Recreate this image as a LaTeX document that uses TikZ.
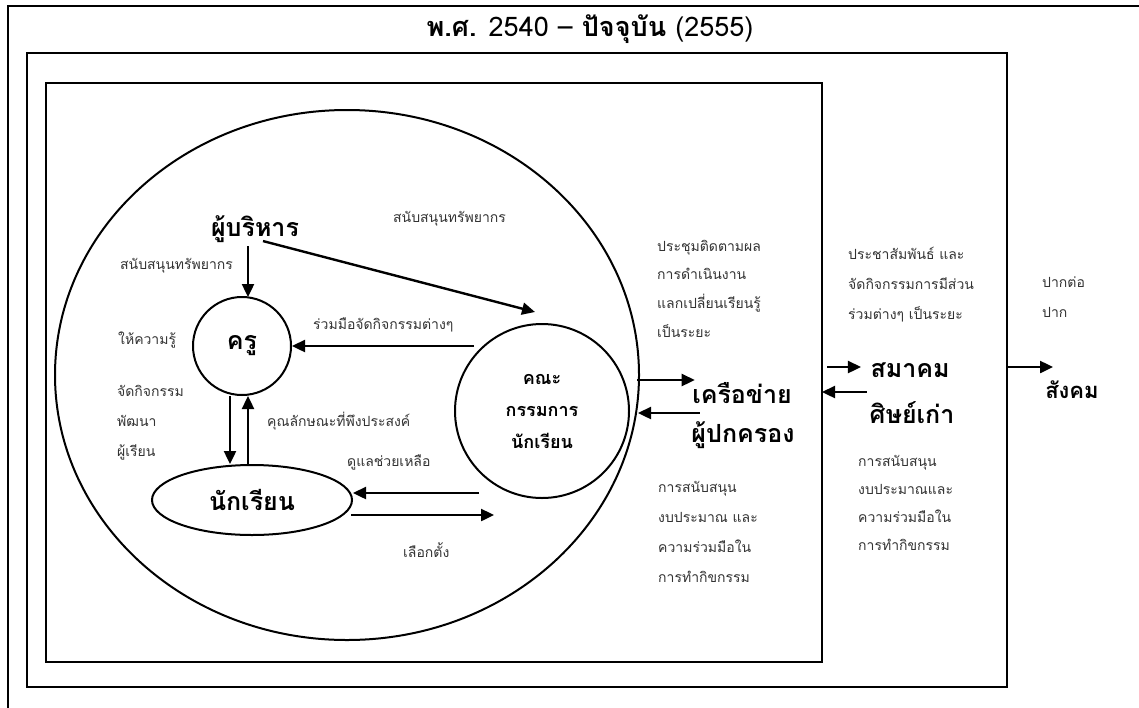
\documentclass[tikz,border=0pt]{standalone}
\usepackage{fontspec}
\setmainfont[Script=Thai]{Loma}
\usetikzlibrary{arrows.meta,calc,shapes.geometric}
\tikzset{
  frame/.style={line width=2pt},
  arr/.style={line width=2.4pt,-{Triangle[length=13pt,width=12pt]}},
  big/.style={font=\fontsize{25}{30}\selectfont\bfseries},
  small/.style={font=\fontsize{14}{17}\selectfont, text=black!80, inner sep=0pt, anchor=base west},
}
\begin{document}
\begin{tikzpicture}[x=1pt,y=-1pt]
    \useasboundingbox (0,0) rectangle (1139,707);
    \clip (0,0) rectangle (1139,707);

    % Frames
    \draw[frame] (8,6) rectangle (1160,730);
    \draw[frame] (27,53) rectangle (1007,687);
    \draw[frame] (46,83) rectangle (822,662);
    \node (title) at (590,29) {\fontsize{27}{30}\selectfont\textbf{พ.ศ.} 2540 -- \textbf{ปัจจุบัน} (2555)};

    % School
    \draw[line width=2pt] (347,375) ellipse [x radius=292, y radius=265];

    % Inside the school
    \node[big] (admin) at (255,229) {ผู้บริหาร};
    \node[big, circle, draw, line width=2pt, minimum size=98pt, inner sep=0pt] (kru) at (242,346) {ครู};
    \node[big, ellipse, draw, line width=2pt, minimum width=200pt, minimum height=70pt, inner sep=0pt] (stu) at (252,500) {นักเรียน};
    \node[circle, draw, line width=2pt, minimum size=174pt, align=center,
          font=\fontsize{18}{32}\selectfont\bfseries] (comm) at (542,411) {คณะ\\กรรมการ\\นักเรียน};

    \coordinate (ak) at ($(kru.north)+(6,1)$);
    \draw[arr] (ak |- admin.south) -- (ak);
    \draw[arr] ($(admin.south)+(8,-5)$) -- ($(comm.north)+(-7,-11)$);
    \draw[arr] ($(kru.east -| comm.west)+(20,0)$) -- (kru.east);

    \coordinate (dn) at ($(kru.south)+(-12,0)$);
    \coordinate (up) at ($(kru.south)+(6,0)$);
    \draw[arr] (dn) -- (dn |- stu.north);
    \draw[arr] (up |- stu.north) -- (up);

    \draw[arr] ($(stu.east)+(126,-7)$) -- ($(stu.east)+(0,-7)$);
    \draw[arr] ($(stu.east)+(-2,15)$) -- ($(stu.east)+(141,15)$);

    % Labels inside
    \node[small] (l1) at (120,269) {สนับสนุนทรัพยากร};
    \node[small] (l2) at (118,344) {ให้ความรู้};
    \foreach \t [count=\i] in {จัดกิจกรรม, พัฒนา, ผู้เรียน}
        \node[small] (dev\i) at (117,{396+30*(\i-1)}) {\t};
    \node[small] (l3) at (393,222) {สนับสนุนทรัพยากร};
    \node[small] (l4) at (313,329) {ร่วมมือจัดกิจกรรมต่างๆ};
    \node[small] (l5) at (267,426) {คุณลักษณะที่พึงประสงค์};
    \node[small] (l6) at (347,466) {ดูแลช่วยเหลือ};
    \node[small] (l7) at (403,557) {เลือกตั้ง};

    % Parents network
    \node[big] (net) at (742,393) {เครือข่าย};
    \node[big] (par) at (743,435) {ผู้ปกครอง};
    \coordinate (eR) at (637,380);
    \coordinate (eR2) at (638,413);
    \draw[arr] (eR) -- ($(eR -| net.west)+(6,0)$);
    \draw[arr] ($(eR2 -| net.west)+(11,0)$) -- (eR2);

    \foreach \t [count=\i] in {ประชุมติดตามผล, การดำเนินงาน, แลกเปลี่ยนเรียนรู้, เป็นระยะ}
        \node[small] (meet\i) at (657,{251+28.7*(\i-1)}) {\t};
    \foreach \t [count=\i] in {การสนับสนุน, งบประมาณ และ, ความร่วมมือใน, การทำกิขกรรม}
        \node[small] (psup\i) at (658,{492+30*(\i-1)}) {\t};

    % Alumni
    \node[big] (alum1) at (910,370) {สมาคม};
    \node[big] (alum2) at (912,413) {ศิษย์เก่า};
    \coordinate (inR) at (822,367);
    \coordinate (inR2) at (822,392);
    \draw[arr] ($(inR)+(5,0)$) -- ($(inR -| alum1.west)+(-6,0)$);
    \draw[arr] ($(inR2 -| alum1.west)+(0,0)$) -- (inR2);

    \foreach \t [count=\i] in {ประชาสัมพันธ์ และ, จัดกิจกรรมการมีส่วน, ร่วมต่างๆ เป็นระยะ}
        \node[small] (pr\i) at (848,{259+30*(\i-1)}) {\t};
    \foreach \t [count=\i] in {การสนับสนุน, งบประมาณและ, ความร่วมมือใน, การทำกิขกรรม}
        \node[small] (asup\i) at (858,{466+28.3*(\i-1)}) {\t};

    % Society
    \node[font=\fontsize{22}{26}\selectfont\bfseries] (soc) at (1072,390) {สังคม};
    \coordinate (midR) at (1007,367);
    \draw[arr] (midR) -- ($(midR)+(46,0)$);
    \node[small] (w1) at (1042,287) {ปากต่อ};
    \node[small] (w2) at (1042,317) {ปาก};
\end{tikzpicture}
\end{document}
